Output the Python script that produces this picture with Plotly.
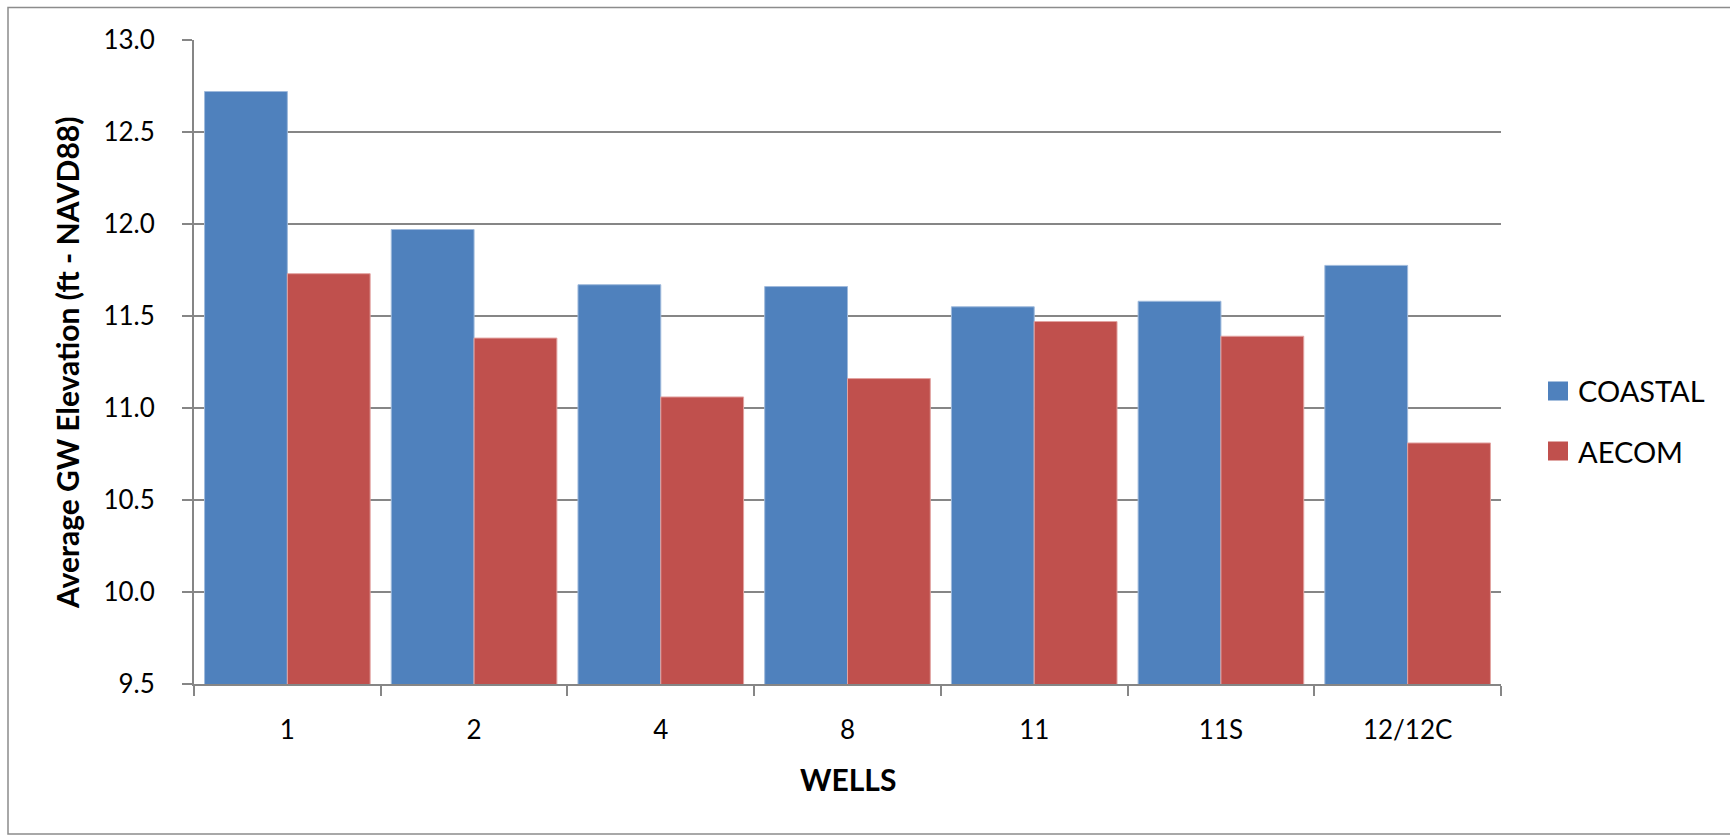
import plotly.graph_objects as go

# Average groundwater elevation per well, two data sources
wells = ["1", "2", "4", "8", "11", "11S", "12/12C"]
coastal = [12.72, 11.97, 11.67, 11.66, 11.55, 11.58, 11.775]
aecom = [11.73, 11.38, 11.06, 11.16, 11.47, 11.39, 10.81]

series_names = ["COASTAL", "AECOM"]
series_colors = ["#4F81BD", "#C0504D"]
edge_colors = ["#9FBADC", "#E2A3A1"]

W, H = 1730, 835
L, R, T, B = 194, 229, 40, 151
plot_w = W - L - R
plot_h = H - T - B

FONT = "Lato"
AXIS_GRAY = "#868686"


def px_x(px):
    return (px - L) / plot_w


def px_y(py):
    return (H - B - py) / plot_h


fig = go.Figure()
for name, vals, col, edge in zip(series_names, [coastal, aecom], series_colors, edge_colors):
    fig.add_trace(go.Bar(
        x=wells, y=vals, name=name,
        marker=dict(color=col, line=dict(color=edge, width=1)),
        showlegend=False,
    ))

fig.update_layout(
    width=W, height=H,
    margin=dict(l=L, r=R, t=T, b=B, pad=0),
    paper_bgcolor="white", plot_bgcolor="white",
    barmode="group", bargap=0.113, bargroupgap=0,
    font=dict(family=FONT, size=26, color="black"),
    xaxis=dict(
        type="category", tickson="boundaries",
        ticks="outside", ticklen=10, tickwidth=2, tickcolor=AXIS_GRAY,
        showline=True, linecolor=AXIS_GRAY, linewidth=2,
        showgrid=False, zeroline=False,
        ticklabelstandoff=22,
        tickfont=dict(family=FONT, size=26, color="black"),
    ),
    yaxis=dict(
        range=[9.5, 13.0], dtick=0.5, tick0=9.5, tickformat=".1f",
        ticks="outside", ticklen=10, tickwidth=2, tickcolor=AXIS_GRAY,
        showline=True, linecolor=AXIS_GRAY, linewidth=2,
        showgrid=True, gridcolor=AXIS_GRAY, gridwidth=1.5,
        zeroline=False,
        ticklabelstandoff=22,
        tickfont=dict(family=FONT, size=26, color="black"),
    ),
)

annotations = [
    dict(text="<b>Average GW Elevation (ft - NAVD88)</b>", xref="paper", yref="paper",
         x=px_x(67), y=px_y(363), xanchor="center", yanchor="middle", textangle=-90,
         showarrow=False, font=dict(family=FONT, size=30, color="black")),
    dict(text="<b>WELLS</b>", xref="paper", yref="paper",
         x=0.5, y=px_y(779), xanchor="center", yanchor="middle",
         showarrow=False, font=dict(family=FONT, size=30, color="black")),
]

shapes = [
    # chart frame
    dict(type="rect", xref="paper", yref="paper",
         x0=px_x(8), x1=px_x(1745), y0=px_y(834), y1=px_y(7.5),
         line=dict(color="#8C8C8C", width=1.5), fillcolor="rgba(0,0,0,0)", layer="below"),
]

# legend: colour swatch plus series name
legend_rows = [391, 451]
for name, col, cy in zip(series_names, series_colors, legend_rows):
    shapes.append(dict(type="rect", xref="paper", yref="paper",
                       x0=px_x(1548), x1=px_x(1568), y0=px_y(cy + 9.5), y1=px_y(cy - 9.5),
                       line=dict(width=0), fillcolor=col))
    annotations.append(dict(text=name, xref="paper", yref="paper",
                            x=px_x(1576), y=px_y(cy), xanchor="left", yanchor="middle",
                            showarrow=False, font=dict(family=FONT, size=29, color="black")))

fig.update_layout(annotations=annotations, shapes=shapes)

fig.write_html("out.html")
